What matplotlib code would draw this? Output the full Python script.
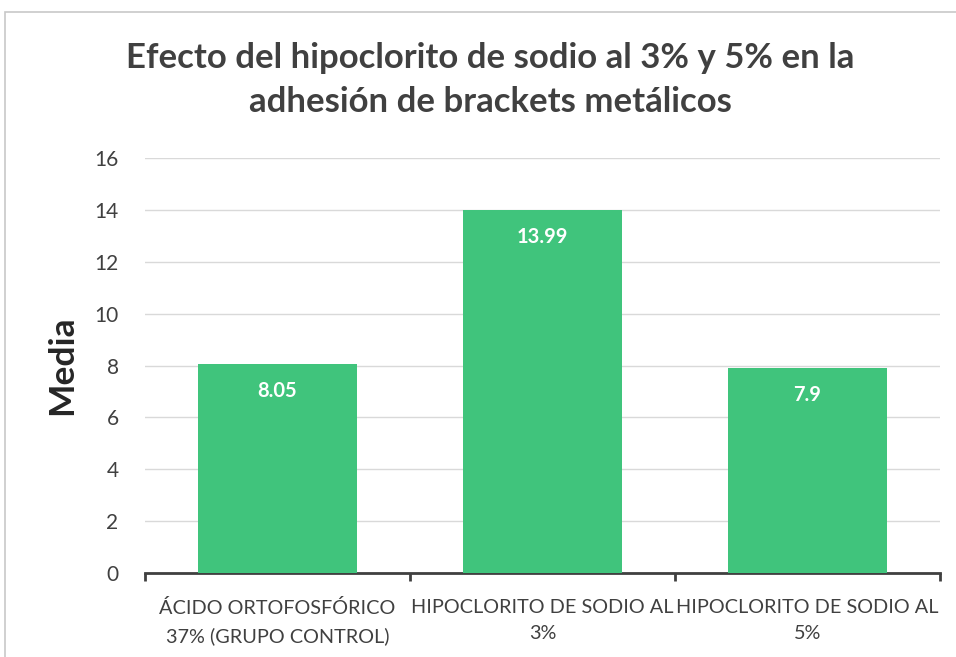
import matplotlib
matplotlib.use("Agg")
import matplotlib.pyplot as plt
from matplotlib.patches import Rectangle

categories = ["ÁCIDO ORTOFOSFÓRICO\n37% (GRUPO CONTROL)",
              "HIPOCLORITO DE SODIO AL\n3%",
              "HIPOCLORITO DE SODIO AL\n5%"]
medias = [8.05, 13.99, 7.9]
yticks = [0, 2, 4, 6, 8, 10, 12, 14, 16]

plt.rcParams['font.family'] = ['Lato', 'DejaVu Sans']

fig = plt.figure(figsize=(9.56, 6.57), dpi=100)
# light frame like the Excel chart border (cut at right and bottom)
fig.patches.append(Rectangle((5 / 956, -0.1), 1.2, 1.1 - 12 / 657, transform=fig.transFigure,
                             fill=False, edgecolor="#c8c8c8", linewidth=1.2))

ax = fig.add_axes([145 / 956, (657 - 573) / 657, (940 - 145) / 956, (573 - 158) / 657])

x = list(range(len(categories)))
ax.bar(x, medias, width=0.6, color="#40C47C", zorder=3)
for xi, v in zip(x, medias):
    ax.text(xi, v - 1.05, f"{v:g}", ha="center", va="center", color="white",
            fontsize=14.5, fontweight="bold", zorder=4)

ax.set_xlim(-0.5, len(categories) - 0.5)
ax.set_ylim(0, 16)
ax.set_yticks(yticks)
ax.grid(axis="y", color="#d9d9d9", linewidth=1, zorder=0)
ax.tick_params(axis="y", length=0, pad=19, labelsize=15, labelcolor="#404040")

ax.set_xticks([-0.5, 0.5, 1.5, 2.5])
ax.set_xticklabels([])
ax.tick_params(axis="x", length=6, width=2, color="#404040")
ax.set_xticks(x, minor=True)
ax.set_xticklabels(categories, minor=True, fontsize=14.3, color="#404040",
                   linespacing=1.65)
ax.tick_params(axis="x", which="minor", length=0, pad=19)

for s in ["top", "right", "left"]:
    ax.spines[s].set_visible(False)
ax.spines["bottom"].set_color("#404040")
ax.spines["bottom"].set_linewidth(2)

ax.set_ylabel("Media", fontsize=25.5, fontweight="bold", color="#262626", labelpad=12)

fig.text(490 / 956, 1 - 80 / 657,
         "Efecto del hipoclorito de sodio al 3% y 5% en la\nadhesión de brackets metálicos",
         ha="center", va="center", fontsize=25, fontweight="bold", color="#404040",
         linespacing=1.5)

fig.savefig("out.png", dpi=100)
